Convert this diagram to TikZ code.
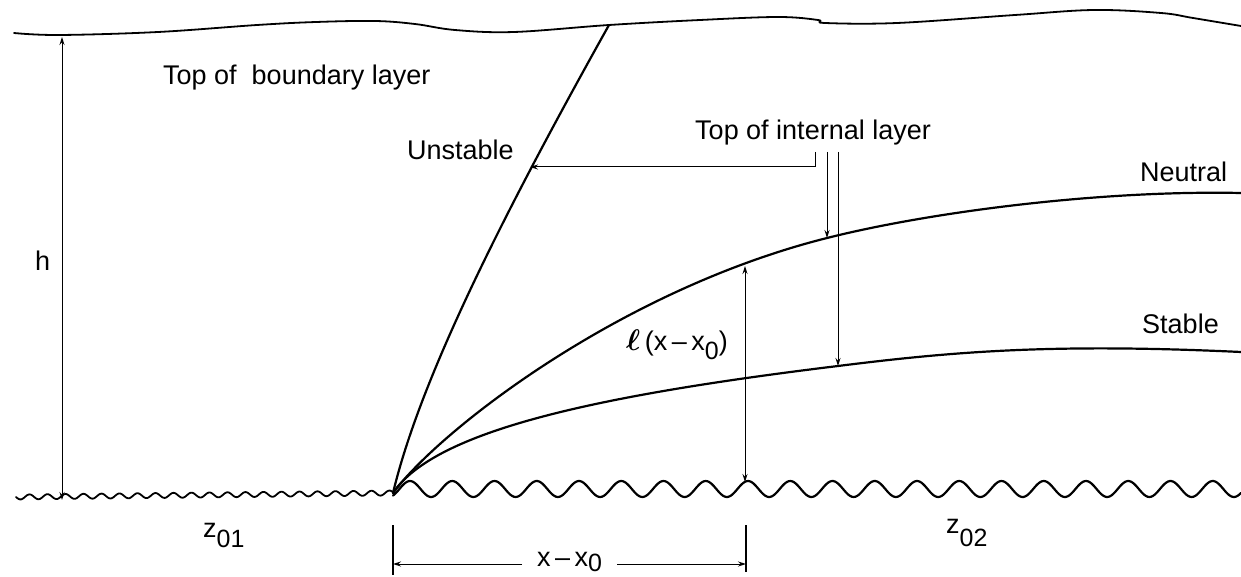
\documentclass[tikz,border=0pt]{standalone}
\usepackage{fontspec}
\setmainfont{Liberation Sans}
\usepackage{amsmath}
\usetikzlibrary{arrows.meta}
\newcommand{\lsub}[2][0.4em]{\raisebox{-#1}{\fontsize{25}{25}\selectfont #2}}
\begin{document}
\begin{tikzpicture}[x=1pt,y=-1pt,
  curve/.style={line width=2.2pt, line join=round, line cap=round},
  thinline/.style={line width=1pt},
  tip/.style={-{Stealth[length=8pt,width=5pt]}},
  bothtips/.style={{Stealth[length=8pt,width=5pt]}-{Stealth[length=8pt,width=5pt]}},
  lbl/.style={font=\fontsize{27}{30}\selectfont, inner sep=0pt, anchor=base west},
]
\useasboundingbox (0,0) rectangle (1241,577);

% top of boundary layer
\draw[curve, line width=1.8pt] plot[smooth, tension=0.6] coordinates {
  (14,33) (59,35) (158,32) (257,25) (316,22) (375,21) (415,24) (455,30)
  (514,32) (609,25) (700,20) (778,17) (818,20) (825,23) (897,23)
  (1015,15) (1094,10) (1161,13) (1193,18) (1241,26)};

% ground: smooth left, rough right
\draw[curve, line width=1.8pt] plot[domain=16:393, samples=300]
  (\x, {497 - 4*(\x-16)/377 + 2.5*sin(20*(\x-16))});
\draw[curve] plot[domain=393:1241, samples=500]
  (\x, {489 - 8*cos(8.5207*(\x-410))});

% internal layer curves
\coordinate (origin) at (393,493);
\coordinate (utop) at (609,25);
\coordinate (nmid) at (827,238);
\coordinate (nend) at (1241,193);
\coordinate (smid) at (838,366);
\coordinate (send) at (1241,352);
\draw[curve] (origin) .. controls (420,380) and (500,220) .. (utop);
\draw[curve] (origin) .. controls (440,430) and (620,290) .. (nmid)
  .. controls (930,212) and (1100,190) .. (nend);
\draw[curve] (origin) .. controls (435,430) and (600,395) .. (smid)
  .. controls (950,352) and (1050,343) .. (send);

% labels
\node[lbl] (tbl) at (163,85) {Top of~ boundary layer};
\node[lbl] (uns) at (407,160) {Unstable};
\node[lbl] (til) at (695,140) {Top of internal layer};
\node[lbl] (neu) at (1140,182) {Neutral};
\node[lbl] (sta) at (1142,333) {Stable};
\node[lbl] (hl) at (35,270) {h};
\node[lbl] (ell) at (626,350) {\scalebox{1.2}{\boldmath$\ell$}\,(x\,–\,x\lsub[0.35em]{0})};
\node[lbl] (z1) at (203,537) {z\lsub{01}};
\node[lbl] (z2) at (946,533) {z\lsub[0.5em]{02}};
\node[lbl] (dx) at (537,566) {x\,–\,x\lsub[0.2em]{0}};

% h dimension
\coordinate (htop) at (62,37);
\coordinate (hbot) at (62,500);
\draw[thinline, bothtips] (htop) -- (hbot);

% pointers from "Top of internal layer"
\coordinate (pu0) at (815,152);
\coordinate (pu1) at (815,167);
\coordinate (pu2) at (530,167);
\draw[thinline, tip] (pu0) -- (pu1) -- (pu2);
\coordinate (pn0) at (827,152);
\coordinate (pn1) at (827,238);
\draw[thinline, tip] (pn0) -- (pn1);
\coordinate (ps0) at (838,152);
\coordinate (ps1) at (838,366);
\draw[thinline, tip] (ps0) -- (ps1);

% l(x-x0) dimension
\coordinate (ltop) at (745,266);
\coordinate (lbot) at (745,482);
\draw[thinline, bothtips] (ltop) -- (lbot);

% x - x0 dimension
\coordinate (bl0) at (393,525);
\coordinate (bl1) at (393,575);
\coordinate (br0) at (746,525);
\coordinate (br1) at (746,572);
\draw[line width=1.6pt] (bl0) -- (bl1);
\draw[line width=1.6pt] (br0) -- (br1);
\coordinate (al) at (393,564);
\coordinate (ar) at (746,564);
\draw[thinline, tip] (dx.west |- al) ++(-15,0) -- (al);
\draw[thinline, tip] (dx.east |- ar) ++(15,0) -- (ar);
\end{tikzpicture}
\end{document}
